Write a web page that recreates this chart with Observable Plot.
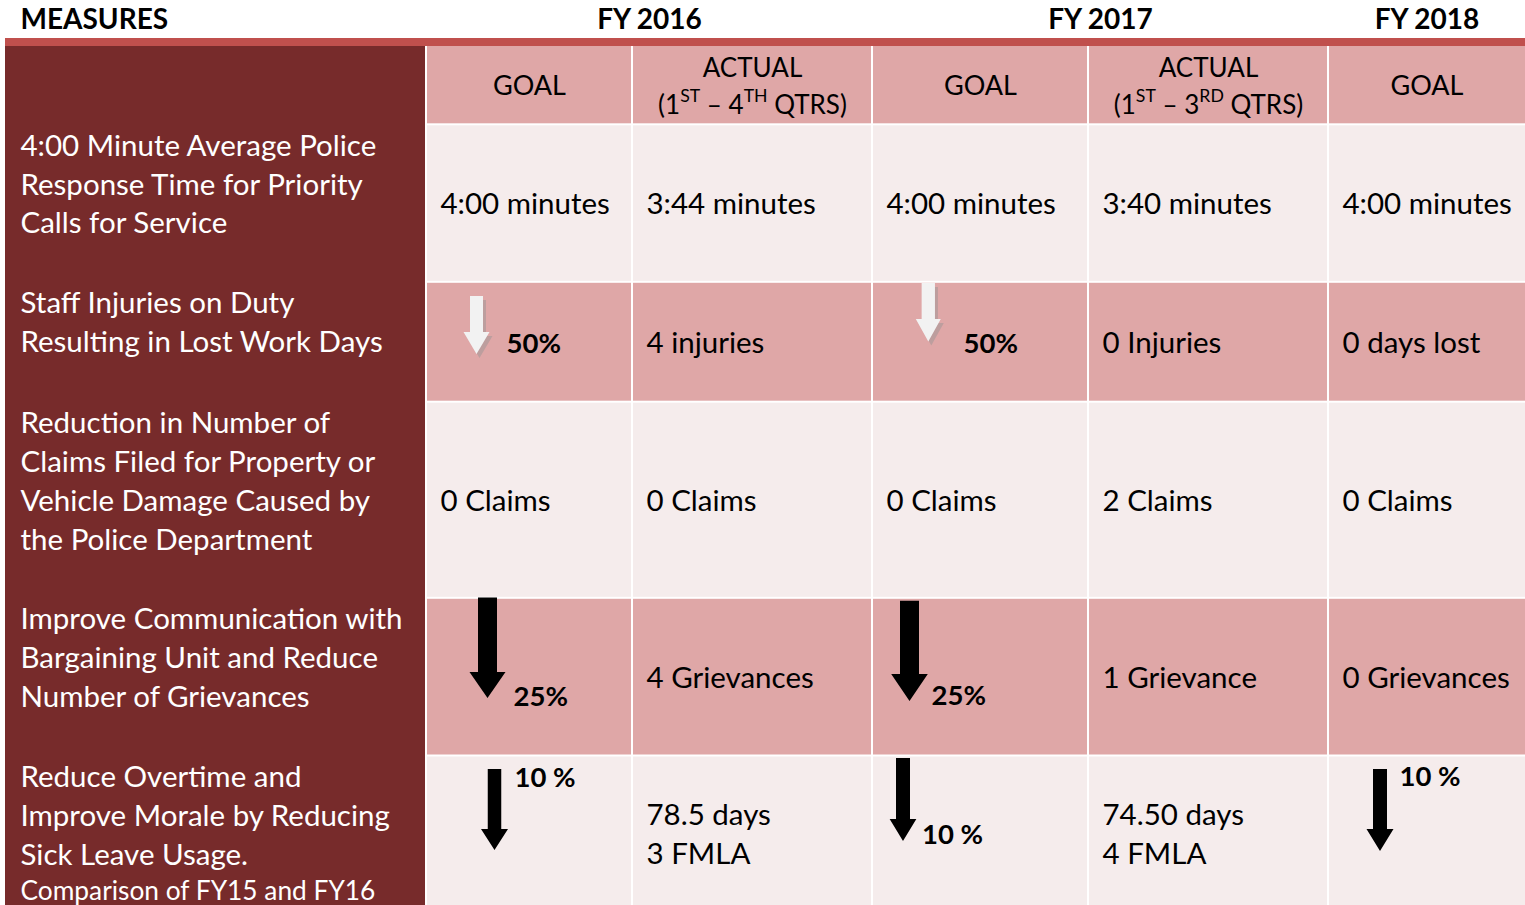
<!DOCTYPE html>
<html><head><meta charset="utf-8">
<script src="https://cdn.jsdelivr.net/npm/d3@7"></script>
<script src="https://cdn.jsdelivr.net/npm/@observablehq/plot@0.6"></script>
<style>
html,body{margin:0;padding:0;background:#fff;overflow:hidden;}
#chart svg{display:block;}
</style>
</head><body><div id="chart"></div>
<script>
// ---------------- DATA ----------------
const cornerTitle = "MEASURES";
const fiscalYears = ["FY 2016", "FY 2017", "FY 2018"];
const fiscalYearColumns = [[0, 1], [2, 3], [4, 4]]; // first/last value column of each year
const columnHeads = ["GOAL", "ACTUAL\n(1^ST – 4^TH QTRS)", "GOAL", "ACTUAL\n(1^ST – 3^RD QTRS)", "GOAL"];
const measures = [
  "4:00 Minute Average Police\nResponse Time for Priority\nCalls for Service",
  "Staff Injuries on Duty\nResulting in Lost Work Days",
  "Reduction in Number of\nClaims Filed for Property or\nVehicle Damage Caused by\nthe Police Department",
  "Improve Communication with\nBargaining Unit and Reduce\nNumber of Grievances",
  "Reduce Overtime and\nImprove Morale by Reducing\nSick Leave Usage."
];
const measureNotes = ["", "", "", "", "Comparison of FY15 and FY16"];
// "↓" marks a reduction goal that is drawn as a down arrow next to its percentage
const values = [
  ["4:00 minutes", "3:44 minutes", "4:00 minutes", "3:40 minutes", "4:00 minutes"],
  ["↓50%", "4 injuries", "↓50%", "0 Injuries", "0 days lost"],
  ["0 Claims", "0 Claims", "0 Claims", "2 Claims", "0 Claims"],
  ["↓25%", "4 Grievances", "↓25%", "1 Grievance", "0 Grievances"],
  ["↓10 %", "78.5 days\n3 FMLA", "↓10 %", "74.50 days\n4 FMLA", "↓10 %"]
];

// ---------------- LAYOUT / STYLE ----------------
const W = 1525, H = 905;
const tableLeft = 5;
const colEdges = [426, 632, 872, 1088, 1328, W];        // value-column boundaries (white line centres)
const rowEdges = [46, 124.3, 281.8, 401.7, 597.8, 755.5, 911]; // header + 5 rows
const barTop = 38;
const C = {bar: "#c0504d", dark: "#772b2b", pink: "#dfa7a7", light: "#f5ecec",
           arrowLight: "#f2f2f2", shadow: "#b79c9c", text: "#000", white: "#fff"};
const FONT = "Lato, 'Open Sans', sans-serif";
const FS = 29.5, FS_PCT = 27.5, FS_HEAD = 27, FS_HEAD2 = 26, FS_YEAR = 28, FS_NOTE = 26.3;
const LINE = 38.8;
const TXT_DY = 1;
// arrow glyph geometry per reduction cell (row-col)
const arrowGeom = {
  "1-0": {cx: 476.5, sw: 13, top: 296, neck: 332, tip: 354, hw: 26, lx: 506, ly: 343.5, light: true},
  "1-2": {cx: 928.3, sw: 13.3, top: 283, neck: 319, tip: 341.5, hw: 25, lx: 963, ly: 343.5, light: true},
  "3-0": {cx: 487.5, sw: 19, top: 597.5, neck: 672, tip: 698, hw: 36, lx: 513, ly: 697},
  "3-2": {cx: 909.5, sw: 19, top: 600.7, neck: 674, tip: 701, hw: 36.6, lx: 931, ly: 695.5},
  "4-0": {cx: 494.5, sw: 13.5, top: 769, neck: 829, tip: 850, hw: 27, lx: 514, ly: 777.5},
  "4-2": {cx: 903, sw: 14, top: 758, neck: 819, tip: 841, hw: 26.7, lx: 921.5, ly: 834.5},
  "4-4": {cx: 1380, sw: 14, top: 769, neck: 829, tip: 851, hw: 27, lx: 1399, ly: 777}
};

// ---------------- BUILD TABLES FOR MARKS ----------------
const nRows = rowEdges.length - 1, nCols = colEdges.length - 1;
const cells = [];
for (let r = 0; r < nRows; r++) {
  for (let c = 0; c < nCols; c++) {
    cells.push({
      x1: colEdges[c] + 1,
      x2: c === nCols - 1 ? W : colEdges[c + 1] - 1,
      y1: rowEdges[r] + (r === 0 ? 0 : 1),
      y2: r === nRows - 1 ? rowEdges[r + 1] : rowEdges[r + 1] - 1,
      fill: r === 0 ? C.pink : (r % 2 === 1 ? C.light : C.pink)
    });
  }
}

const yearTexts = fiscalYears.map((t, i) => ({
  text: t,
  x: (colEdges[fiscalYearColumns[i][0]] + colEdges[fiscalYearColumns[i][1] + 1]) / 2,
  y: 20
}));

const headTexts = [];
columnHeads.forEach((h, c) => {
  const lines = h.split("\n");
  const x = (colEdges[c] + colEdges[c + 1]) / 2;
  if (lines.length === 1) headTexts.push({text: h, x, y: (rowEdges[0] + rowEdges[1]) / 2 + TXT_DY, fs: FS_HEAD});
  else lines.forEach((l, k) => headTexts.push({text: l, x, y: 67.8 + k * 37, fs: FS_HEAD2}));
});

const labelTexts = [];
measures.forEach((m, i) => {
  const lines = m.split("\n");
  const top = rowEdges[i + 1];
  lines.forEach((l, k) => labelTexts.push({text: l, x: 20, y: top + 21.5 + k * LINE, fs: FS}));
  if (measureNotes[i]) labelTexts.push({text: measureNotes[i], x: 20, y: top + 21.5 + (lines.length - 1) * LINE + 36.4, fs: FS_NOTE});
});

const valueTexts = [], pctTexts = [], arrowPts = [], shadowPts = [];
values.forEach((row, i) => {
  const yc = (rowEdges[i + 1] + rowEdges[i + 2]) / 2 + TXT_DY;
  row.forEach((v, c) => {
    if (v.startsWith("↓")) {
      const g = arrowGeom[`${i}-${c}`];
      pctTexts.push({text: v.slice(1), x: g.lx, y: g.ly});
      const id = `${i}-${c}`;
      const poly = [
        {y: g.top, x1: g.cx - g.sw / 2, x2: g.cx + g.sw / 2},
        {y: g.neck, x1: g.cx - g.sw / 2, x2: g.cx + g.sw / 2},
        {y: g.neck, x1: g.cx - g.hw / 2, x2: g.cx + g.hw / 2},
        {y: g.tip, x1: g.cx, x2: g.cx}
      ];
      poly.forEach(p => arrowPts.push({...p, id, fill: g.light ? C.arrowLight : C.text}));
      if (g.light) poly.forEach(p => shadowPts.push({y: p.y + 4, x1: p.x1 + 3, x2: p.x2 + 3, id}));
    } else {
      const lines = v.split("\n");
      lines.forEach((l, k) => valueTexts.push({
        text: l, x: colEdges[c] + 14, y: yc + (k - (lines.length - 1) / 2) * 39
      }));
    }
  });
});

// ---------------- PLOT ----------------
const txt = (data, o) => Plot.text(data, {x: "x", y: "y", text: "text", lineAnchor: "middle", fontFamily: FONT, ...o});
const svg = Plot.plot({
  width: W, height: H, margin: 0,
  x: {domain: [0, W], range: [0, W], axis: null},
  y: {domain: [0, H], range: [0, H], axis: null},
  style: {background: "#fff", fontFamily: FONT, overflow: "hidden"},
  marks: [
    Plot.rect([{x1: tableLeft, x2: W, y1: barTop, y2: rowEdges[0]}], {x1: "x1", x2: "x2", y1: "y1", y2: "y2", fill: C.bar}),
    Plot.rect([{x1: tableLeft, x2: colEdges[0] - 1, y1: rowEdges[0], y2: H}], {x1: "x1", x2: "x2", y1: "y1", y2: "y2", fill: C.dark}),
    Plot.rect(cells, {x1: "x1", x2: "x2", y1: "y1", y2: "y2", fill: "fill"}),
    txt([{text: cornerTitle, x: 20, y: 20}], {textAnchor: "start", fontSize: FS_YEAR, fontWeight: "bold", fill: C.text}),
    txt(yearTexts, {textAnchor: "middle", fontSize: FS_YEAR, fontWeight: "bold", fill: C.text}),
    txt(headTexts, {textAnchor: "middle", fontSize: "fs", fill: C.text}),
    txt(labelTexts, {textAnchor: "start", fontSize: "fs", fill: C.white}),
    txt(valueTexts, {textAnchor: "start", fontSize: FS, fill: C.text}),
    Plot.areaX(shadowPts, {y: "y", x1: "x1", x2: "x2", z: "id", fill: C.shadow, fillOpacity: 0.85}),
    Plot.areaX(arrowPts, {y: "y", x1: "x1", x2: "x2", z: "id", fill: "fill"}),
    txt(pctTexts, {textAnchor: "start", fontSize: FS_PCT, fontWeight: "bold", fill: C.text})
  ]
});

// superscripts (1^ST, 4^TH, 3^RD)
svg.querySelectorAll("text").forEach(el => {
  const s = el.textContent;
  if (!s.includes("^")) return;
  const parts = s.split(/\^([A-Za-z]+)/);
  el.textContent = "";
  const sel = d3.select(el);
  let raised = false;
  parts.forEach((p, i) => {
    const t = sel.append("tspan").text(p);
    if (i % 2 === 1) { t.attr("font-size", "68%").attr("dy", -12); raised = true; }
    else if (raised) { t.attr("dy", 12); raised = false; }
  });
});

document.getElementById("chart").append(svg);
</script>
</body></html>
